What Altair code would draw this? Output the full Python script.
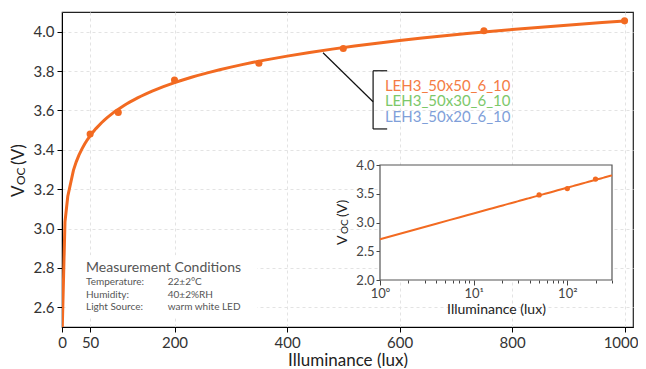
import altair as alt
import pandas as pd

# ---- data ----
lux = [50, 100, 200, 350, 500, 750, 1000]
voc = [3.48, 3.59, 3.755, 3.84, 3.915, 4.005, 4.055]

legend_labels = ["LEH3_50x50_6_10", "LEH3_50x30_6_10", "LEH3_50x20_6_10"]
legend_colors = ["#f47c44", "#7cc86a", "#7f9fd9"]
legend_y = [3.725, 3.649, 3.567]
legend_x = [574, 574, 574]

cond_title = "Measurement Conditions"
cond_keys = ["Temperature:", "Humidity:", "Light Source:"]
cond_vals = ["22±2°C", "40±2%RH", "warm white LED"]
cond_y = [2.728, 2.662, 2.600]

x_ticks = [0, 50, 200, 400, 600, 800, 1000]
y_ticks = [2.6, 2.8, 3.0, 3.2, 3.4, 3.6, 3.8, 4.0]
inset_x_ticks = [1, 2, 3, 4, 5, 6, 7, 8, 9, 10, 20, 30, 40, 50, 60, 70, 80, 90, 100, 200, 300]
inset_y_ticks = [2.0, 2.5, 3.0, 3.5, 4.0]

# annotation pointer + bracket (data coordinates)
ann_x = [464, 553, 553, 553]
ann_y = [3.893, 3.8015, 3.8015, 3.506]
ann_x2 = [553, 553, 578, 578]
ann_y2 = [3.644, 3.506, 3.8015, 3.506]

ORANGE = "#f26a21"
FONT = "Lato"

df = pd.DataFrame({"lux": lux, "voc": voc})
df_leg = pd.DataFrame({"lux": legend_x, "voc": legend_y, "label": legend_labels, "color": legend_colors})
df_cond = pd.DataFrame({"key": cond_keys, "val": cond_vals, "voc": cond_y})
df_ann = pd.DataFrame({"lux": ann_x, "voc": ann_y, "lux2": ann_x2, "voc2": ann_y2})
df_one = pd.DataFrame({"a": [0]})

W, H = 571, 315
xs = alt.Scale(domain=[0, 1015], nice=False, zero=False)
ys = alt.Scale(domain=[2.5, 4.1], nice=False, zero=False)

x_axis = alt.Axis(values=x_ticks, format="d", title="Illuminance (lux)", grid=True, gridDash=[3, 3],
                  gridColor="#e3e3e3", labelFontSize=15, labelColor="#333", labelFont=FONT,
                  labelOffset={"condition": {"test": "datum.value == 1000", "value": -4}, "value": 0},
                  titleFont=FONT, titleFontSize=17, titleFontWeight="normal", titleColor="#222",
                  tickColor="#000", domainColor="#000", tickSize=5, labelFlush=False,
                  labelPadding=3, titlePadding=2)
y_axis = alt.Axis(values=y_ticks, format=".1f", title=None, grid=True, gridDash=[3, 3],
                  gridColor="#e3e3e3", labelFontSize=15, labelColor="#333", labelFont=FONT,
                  tickColor="#000", domainColor="#000", tickSize=5, labelFlush=False,
                  labelPadding=3)

def X(field):
    return alt.X(field, type="quantitative", scale=xs, axis=x_axis, title="Illuminance (lux)")

def Y(field):
    return alt.Y(field, type="quantitative", scale=ys, axis=y_axis, title=None)

base = alt.Chart(df)

fit = base.transform_regression("lux", "voc", method="log", extent=[0.3, 1000]).mark_line(
    color=ORANGE, strokeWidth=3, clip=True).encode(x=X("lux"), y=Y("voc"))
pts = base.mark_circle(color=ORANGE, size=50, opacity=1).encode(x=X("lux"), y=Y("voc"))

box = alt.Chart(df_one).mark_rect(fill="white").encode(
    x=alt.X(datum=7, type="quantitative", scale=xs, axis=x_axis),
    x2=alt.X2(datum=347),
    y=alt.Y(datum=2.545, type="quantitative", scale=ys, axis=y_axis),
    y2=alt.Y2(datum=2.865))

cond_t = alt.Chart(df_one).mark_text(align="left", baseline="middle", font=FONT, fontSize=14,
                                     color="#555").encode(
    x=alt.X(datum=42.7, type="quantitative", scale=xs, axis=x_axis),
    y=alt.Y(datum=2.80, type="quantitative", scale=ys, axis=y_axis),
    text=alt.value(cond_title))
cond_k = alt.Chart(df_cond).mark_text(align="left", baseline="middle", font=FONT, fontSize=10,
                                      color="#555").encode(
    x=alt.X(datum=42.7, type="quantitative", scale=xs, axis=x_axis), y=Y("voc"), text="key:N")
cond_v = alt.Chart(df_cond).mark_text(align="left", baseline="middle", font=FONT, fontSize=10,
                                      color="#555").encode(
    x=alt.X(datum=188, type="quantitative", scale=xs, axis=x_axis), y=Y("voc"), text="val:N")

ann = alt.Chart(df_ann).mark_rule(color="#111", strokeWidth=1.2).encode(
    x=X("lux"), y=Y("voc"), x2="lux2:Q", y2="voc2:Q")

leg = alt.Chart(df_leg).mark_text(align="left", baseline="middle", font=FONT, fontSize=15).encode(
    x=X("lux"), y=Y("voc"), text="label:N", color=alt.Color("color:N", scale=None))

# y-axis title with subscript, drawn as text
def ytitle(txt, x, y, size):
    return alt.Chart(df_one).mark_text(angle=270, align="left", baseline="alphabetic", font=FONT,
                                       fontSize=size, color="#222").encode(
        x=alt.value(x), y=alt.value(y), text=alt.value(txt))

yt = ytitle("V", -38, 185, 17) + ytitle("OC", -37, 173, 12) + ytitle("(V)", -38, 153, 17)

main = alt.layer(fit, box, cond_t, cond_k, cond_v, ann, leg, pts, yt)

# ---- inset ----
xi = alt.Scale(type="log", domain=[1, 300], range=[318, 550], nice=False)
yi = alt.Scale(domain=[2.0, 4.0], range=[268, 153], nice=False, zero=False)

xi_axis = alt.Axis(orient="bottom", offset=-(H - 268), values=inset_x_ticks,
                   labelExpr="datum.value == 1 ? '10⁰' : datum.value == 10 ? '10¹' : datum.value == 100 ? '10²' : ''",
                   tickSize={"condition": {"test": "datum.value == 1 || datum.value == 10 || datum.value == 100",
                                           "value": 5}, "value": 3},
                   title="Illuminance (lux)", titleFont=FONT, titleFontSize=14, titleFontWeight="normal",
                   titleColor="#222", labelFont=FONT, labelFontSize=13, labelColor="#444",
                   labelOverlap=False, labelFlush=False, grid=False, domain=False,
                   tickColor="#444", labelPadding=2, titlePadding=2)
yi_axis = alt.Axis(orient="left", offset=-318, values=inset_y_ticks, format=".1f", title=None,
                   labelFont=FONT, labelFontSize=13, labelColor="#444", labelFlush=False,
                   grid=False, domain=False, tickColor="#444", tickSize=4, labelPadding=2)

def XI(field):
    return alt.X(field, type="quantitative", scale=xi, axis=xi_axis, title="Illuminance (lux)")

def YI(field):
    return alt.Y(field, type="quantitative", scale=yi, axis=yi_axis, title=None)

frame = alt.Chart(df_one).mark_rect(fill="white", stroke="#555", strokeWidth=1.2).encode(
    x=alt.X(datum=1, type="quantitative", scale=xi, axis=xi_axis, title="Illuminance (lux)"),
    x2=alt.X2(datum=300),
    y=alt.Y(datum=2.0, type="quantitative", scale=yi, axis=yi_axis, title=None),
    y2=alt.Y2(datum=4.0))
ifit = base.transform_regression("lux", "voc", method="log", extent=[1, 300]).mark_line(
    color=ORANGE, strokeWidth=2).encode(x=XI("lux"), y=YI("voc"))
ipts = base.transform_filter("datum.lux <= 300").mark_circle(color=ORANGE, size=28, opacity=1).encode(
    x=XI("lux"), y=YI("voc"))
iyt = ytitle("V", 285, 233, 14) + ytitle("OC", 286, 222, 10) + ytitle("(V)", 285, 205, 14)

inset = alt.layer(frame, ifit, ipts, iyt)

chart = alt.layer(main, inset).resolve_scale(x="independent", y="independent").resolve_axis(
    x="independent", y="independent").properties(
    width=W, height=H,
    autosize=alt.AutoSizeParams(type="none"),
    padding={"left": 54, "top": 4, "right": 5, "bottom": 41},
    background="white",
).configure_view(stroke="#222", strokeWidth=1.2)

chart.save("out.html", embed_options={"renderer": "svg", "actions": False})
